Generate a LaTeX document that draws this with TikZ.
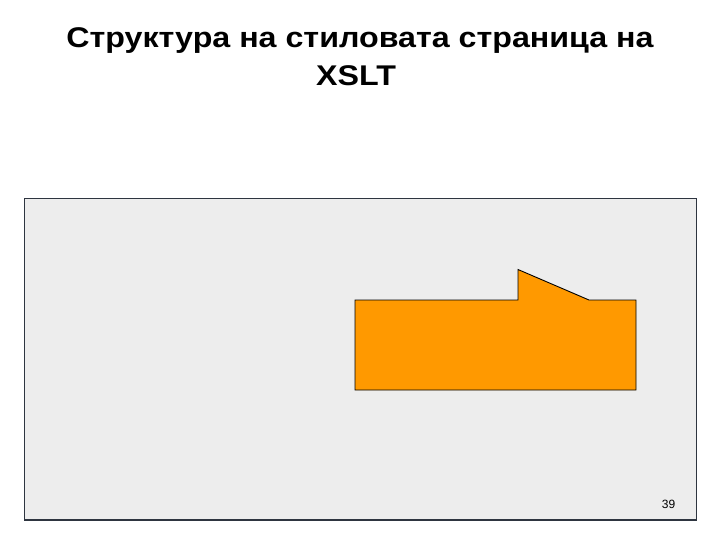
\documentclass[tikz,border=0pt]{standalone}
\usepackage{fontspec}
\setmainfont{Liberation Sans}
\newfontfamily\titlefont[FakeStretch=1.13]{Liberation Sans}
\definecolor{panelfill}{HTML}{EDEDED}
\definecolor{panelline}{HTML}{2E3540}
\definecolor{orangefill}{HTML}{FF9900}
\begin{document}
\begin{tikzpicture}[x=1pt,y=-1pt,
  titletext/.style={font=\titlefont\fontsize{28.5}{34}\selectfont\bfseries, anchor=base, inner sep=0pt},
  panel/.style={fill=panelfill, draw=panelline, line width=1.3pt},
  shapebox/.style={fill=orangefill, draw=black, line width=0.9pt, line join=miter}]
\useasboundingbox (0,0) rectangle (720,540);
\fill[white] (0,0) rectangle (720,540);
\node[titletext] (t1) at (360,48) {Структура на стиловата страница на};
\node[titletext] (t2) at (356,85.7) {XSLT};
\draw[panel] (24.3,198.3) rectangle (696.3,520);
\draw[shapebox] (355,390) -- (355,300) -- (518,300) -- (518,269.5) -- (589,300) -- (636,300) -- (636,390) -- cycle;
\node[font=\fontsize{12}{14}\selectfont, anchor=base, inner sep=0pt] (pg) at (668.5,508) {39};
\end{tikzpicture}
\end{document}
